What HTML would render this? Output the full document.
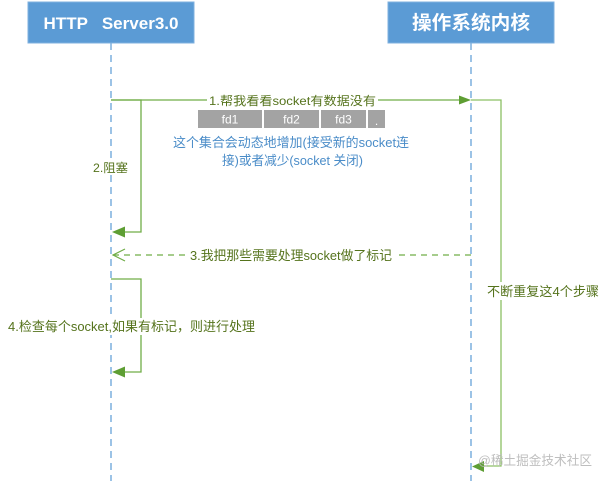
<!DOCTYPE html>
<html><head><meta charset="utf-8"><style>
html,body{margin:0;padding:0;background:#fff;width:607px;height:481px;overflow:hidden}
svg{display:block}
text{font-family:"Liberation Sans","Noto Sans CJK SC",sans-serif}
</style></head><body>
<svg width="607" height="481" viewBox="0 0 607 481" xmlns="http://www.w3.org/2000/svg">
<!-- lifelines -->
<line x1="111" y1="43" x2="111" y2="481" stroke="#5b9bd5" stroke-width="1.2" stroke-dasharray="7,5"/>
<line x1="471" y1="43" x2="471" y2="481" stroke="#5b9bd5" stroke-width="1.2" stroke-dasharray="7,5"/>
<!-- headers -->
<rect x="28" y="2" width="166" height="41" fill="#5b9bd5" stroke="#7fb0df" stroke-width="1"/>
<text x="111" y="29" fill="#fff" font-size="17" font-weight="bold" text-anchor="middle" textLength="135" lengthAdjust="spacingAndGlyphs" xml:space="preserve">HTTP   Server3.0</text>
<rect x="388" y="2" width="166" height="41" fill="#5b9bd5" stroke="#7fb0df" stroke-width="1"/>
<text x="471" y="29" fill="#fff" font-size="19" font-weight="bold" text-anchor="middle" textLength="118" lengthAdjust="spacingAndGlyphs">操作系统内核</text>

<!-- step 1 -->
<line x1="111" y1="100" x2="460" y2="100" stroke="#70ad47" stroke-width="1.3"/>
<polygon points="459,95.5 471,100 459,104.5" fill="#5e9e33"/>
<rect x="207" y="92" width="171" height="16" fill="#fff"/>
<text x="209" y="105" fill="#55731c" font-size="12" textLength="167" lengthAdjust="spacingAndGlyphs">1.帮我看看socket有数据没有</text>

<!-- fd boxes -->
<rect x="198" y="110" width="64" height="18" fill="#a3a3a3"/>
<rect x="264" y="110" width="55" height="18" fill="#a3a3a3"/>
<rect x="321" y="110" width="45" height="18" fill="#a3a3a3"/>
<rect x="368" y="110" width="17" height="18" fill="#a3a3a3"/>
<text x="230" y="123.5" fill="#fff" font-size="12" text-anchor="middle">fd1</text>
<text x="291.5" y="123.5" fill="#fff" font-size="12" text-anchor="middle">fd2</text>
<text x="343.5" y="123.5" fill="#fff" font-size="12" text-anchor="middle">fd3</text>
<text x="376.5" y="125" fill="#fff" font-size="12" text-anchor="middle">.</text>

<text x="173" y="147" fill="#4a8cc8" font-size="13" textLength="236" lengthAdjust="spacingAndGlyphs">这个集合会动态地增加(接受新的socket连</text>
<text x="222" y="165" fill="#4a8cc8" font-size="13" textLength="141" lengthAdjust="spacingAndGlyphs">接)或者减少(socket 关闭)</text>

<!-- step 2 -->
<polyline points="111,100 141,100 141,232 124,232" fill="none" stroke="#70ad47" stroke-width="1.3"/>
<polygon points="125,226.5 112,232 125,237.5" fill="#5e9e33"/>
<rect x="91" y="159" width="39" height="16" fill="#fff"/>
<text x="93" y="172" fill="#55731c" font-size="12" textLength="35" lengthAdjust="spacingAndGlyphs">2.阻塞</text>

<!-- step 3 -->
<line x1="113" y1="255" x2="471" y2="255" stroke="#70ad47" stroke-width="1.2" stroke-dasharray="6,5"/>
<polyline points="125,249 113,255 125,261" fill="none" stroke="#70ad47" stroke-width="1.2"/>
<rect x="188" y="247" width="206" height="16" fill="#fff"/>
<text x="190" y="260" fill="#55731c" font-size="13" textLength="202" lengthAdjust="spacingAndGlyphs">3.我把那些需要处理socket做了标记</text>

<!-- step 4 -->
<polyline points="111,279 141,279 141,372 124,372" fill="none" stroke="#70ad47" stroke-width="1.3"/>
<polygon points="125,366.5 112,372 125,377.5" fill="#5e9e33"/>
<rect x="6" y="318" width="251" height="17" fill="#fff"/>
<text x="8" y="331" fill="#55731c" font-size="13" textLength="247" lengthAdjust="spacingAndGlyphs">4.检查每个socket,如果有标记，则进行处理</text>

<!-- repeat loop -->
<polyline points="471,100 501,100 501,466 484,466" fill="none" stroke="#8cc063" stroke-width="1.3"/>
<polygon points="484,461 472,466.5 484,472" fill="#5e9e33"/>
<rect x="485" y="282" width="116" height="18" fill="#fff"/>
<text x="487" y="296" fill="#55731c" font-size="13" textLength="112" lengthAdjust="spacingAndGlyphs">不断重复这4个步骤</text>

<!-- watermark -->
<text x="478" y="465" fill="#b8b8b8" font-size="13" textLength="114" lengthAdjust="spacingAndGlyphs" opacity="0.9">@稀土掘金技术社区</text>
</svg>
</body></html>
